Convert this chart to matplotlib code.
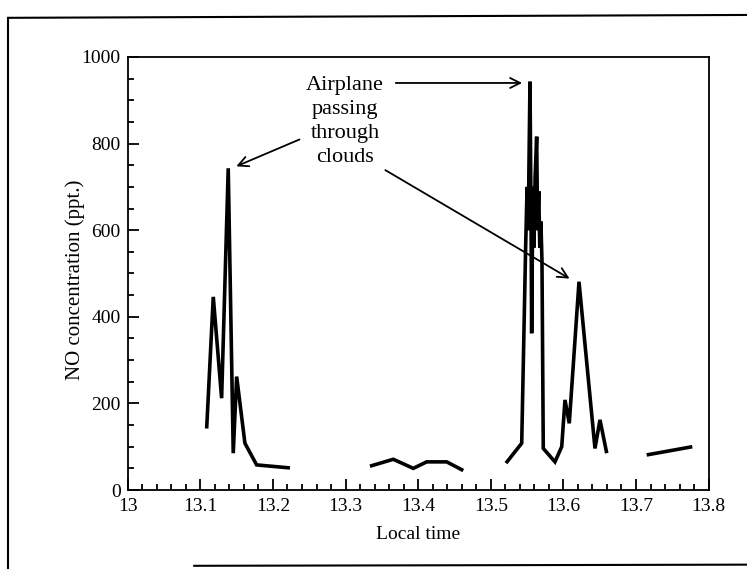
import matplotlib
matplotlib.use("Agg")
import matplotlib.pyplot as plt
from matplotlib.lines import Line2D
from matplotlib.ticker import MultipleLocator

plt.rcParams['font.family'] = ['Liberation Serif', 'DejaVu Serif']

# Segment 1 (first cloud passage)
t1 = [13.1087, 13.1178, 13.1293, 13.1384, 13.1453, 13.1500, 13.1614, 13.1775, 13.2234]
no1 = [142, 446, 212, 743, 85, 262, 108, 58, 51]
# Segment 2 (clear air)
t2 = [13.3336, 13.3657, 13.3933, 13.4117, 13.4393, 13.4621]
no2 = [55, 71, 50, 65, 65, 45]
# Segment 3 (second cloud passage)
t3 = [13.5209, 13.5426, 13.5480, 13.5500, 13.5515, 13.5540, 13.5555, 13.5563,
      13.5580, 13.5595, 13.5610, 13.5632, 13.5645, 13.5660, 13.5675, 13.5690,
      13.5705, 13.5723, 13.5884, 13.5977, 13.6022, 13.6081, 13.6215, 13.6435,
      13.6504, 13.6597]
no3 = [62, 108, 560, 700, 600, 943, 620, 362, 700, 560, 720, 816, 600, 690,
       560, 620, 530, 96, 65, 100, 208, 154, 481, 96, 162, 85]
# Segment 4
t4 = [13.7147, 13.7775]
no4 = [81, 100]

xtick_vals = [13.0, 13.1, 13.2, 13.3, 13.4, 13.5, 13.6, 13.7, 13.8]
xtick_labels = ['13', '13.1', '13.2', '13.3', '13.4', '13.5', '13.6', '13.7', '13.8']
ytick_vals = [0, 200, 400, 600, 800, 1000]
ytick_labels = ['0', '200', '400', '600', '800', '1000']

fig = plt.figure(figsize=(7.47, 5.75), dpi=100)
ax = fig.add_axes([0.171, 0.1478, 0.7776, 0.7531])

for t, v in [(t1, no1), (t2, no2), (t3, no3), (t4, no4)]:
    ax.plot(t, v, color='black', lw=2.6, solid_joinstyle='miter', solid_capstyle='butt')

ax.set_xlim(13.0, 13.8)
ax.set_ylim(0, 1000)
ax.set_xticks(xtick_vals)
ax.set_xticklabels(xtick_labels)
ax.set_yticks(ytick_vals)
ax.set_yticklabels(ytick_labels)
ax.xaxis.set_minor_locator(MultipleLocator(0.02))
ax.yaxis.set_minor_locator(MultipleLocator(50))
ax.tick_params(which='both', direction='in', top=False, right=False, width=1.3)
ax.tick_params(which='major', length=8, labelsize=14)
ax.tick_params(axis='x', which='major', pad=6)
ax.tick_params(axis='y', which='major', pad=5)
ax.tick_params(which='minor', length=4)
for s in ax.spines.values():
    s.set_linewidth(1.3)

ax.set_xlabel('Local time', fontsize=14, labelpad=8)
ax.set_ylabel('NO concentration (ppt.)', fontsize=15)
ax.yaxis.set_label_coords(-0.074, 0.485)

ax.text(13.2995, 955, 'Airplane\npassing\nthrough\nclouds', ha='center', va='top',
        fontsize=16, linespacing=1.35)
arrow = dict(arrowstyle='->', color='black', lw=1.3, mutation_scale=18)
ax.annotate('', xy=(13.547, 940), xytext=(13.3653, 940), arrowprops=arrow)
ax.annotate('', xy=(13.146, 745), xytext=(13.240, 812), arrowprops=arrow)
ax.annotate('', xy=(13.6118, 485), xytext=(13.3515, 742), arrowprops=arrow)

# scanned page frame
fig.add_artist(Line2D([0.011, 0.011], [0.012, 0.969], color='black', lw=1.5, transform=fig.transFigure))
fig.add_artist(Line2D([0.011, 1.0], [0.969, 0.974], color='black', lw=1.5, transform=fig.transFigure))
fig.add_artist(Line2D([0.26, 1.0], [0.016, 0.018], color='black', lw=1.5, transform=fig.transFigure))

fig.savefig('out.png', dpi=100)
